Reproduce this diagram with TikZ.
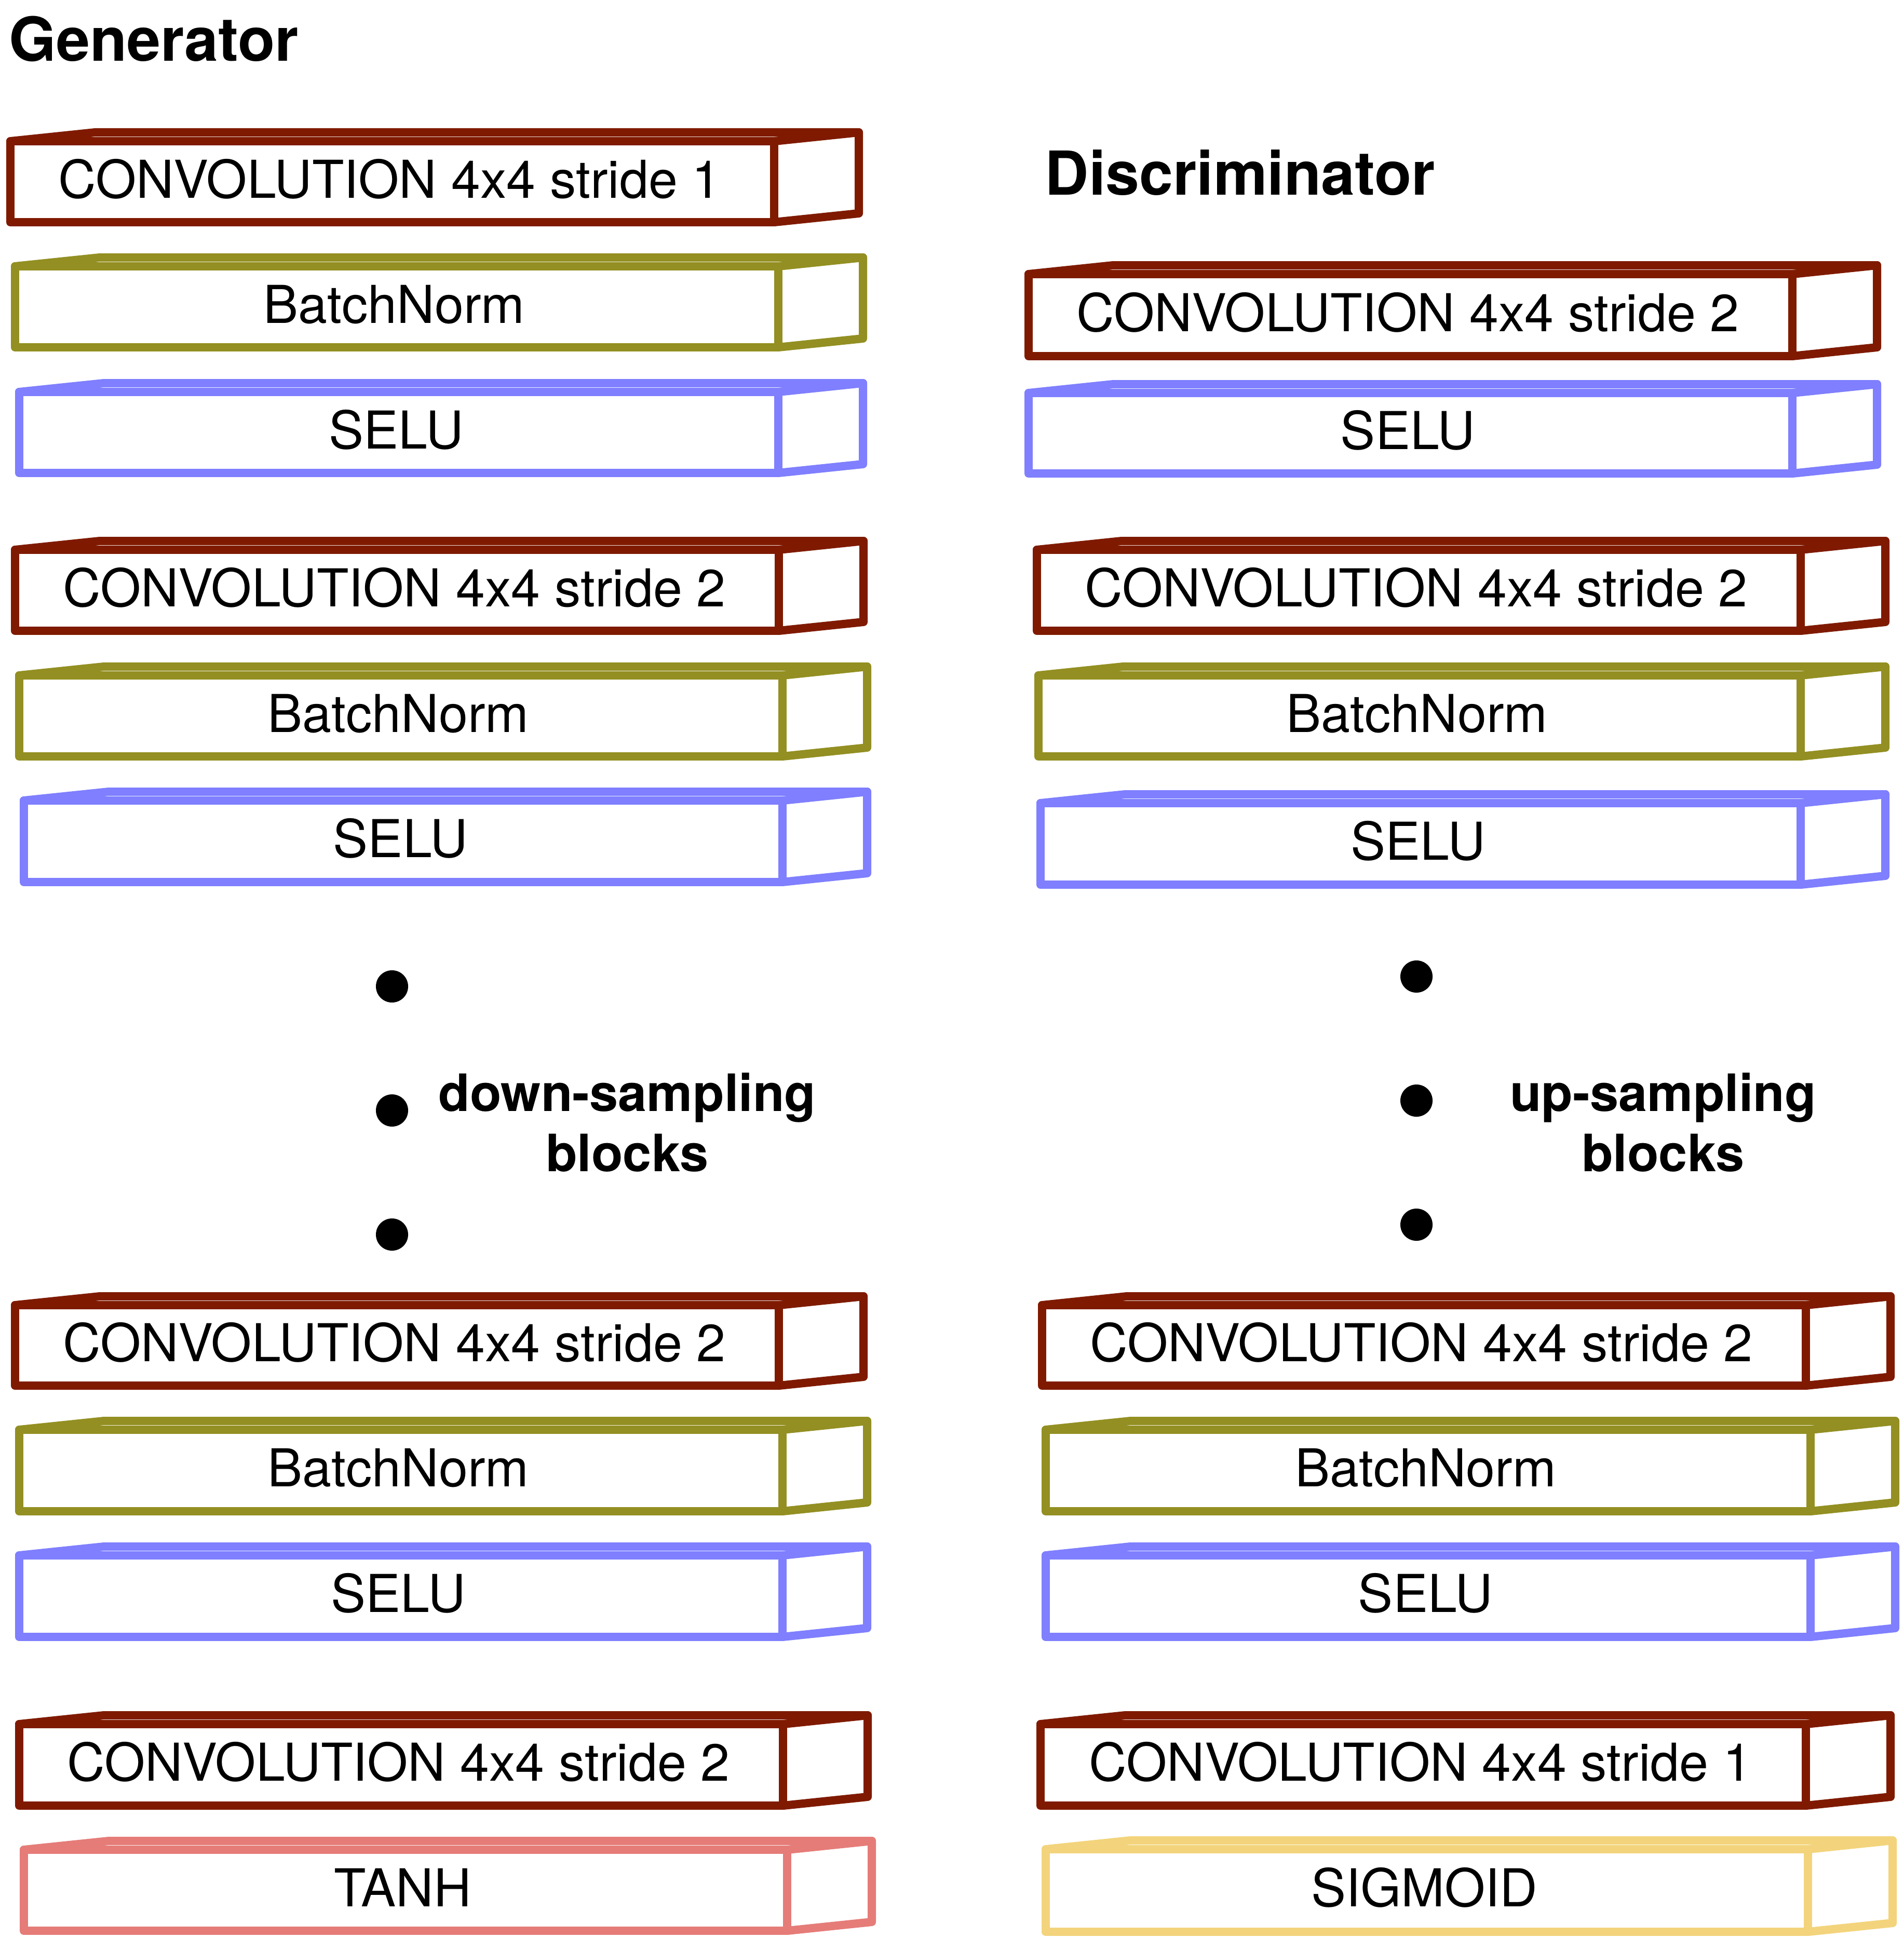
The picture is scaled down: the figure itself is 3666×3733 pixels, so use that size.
\documentclass[tikz,border=0pt]{standalone}
\usepackage{fontspec}
\setmainfont{TeX Gyre Heros}
\usetikzlibrary{calc}
\definecolor{convred}{RGB}{127,26,0}
\definecolor{bnolive}{RGB}{147,143,34}
\definecolor{selublue}{RGB}{127,127,255}
\definecolor{tanhred}{RGB}{229,124,120}
\definecolor{sigyellow}{RGB}{243,212,124}
\newcommand\boxfont{\fontsize{28.6}{34}\selectfont}
\newcommand\titlefont{\fontsize{33.2}{40}\selectfont\bfseries}
\newcommand\labfont{\fontsize{28.2}{34}\selectfont\bfseries}
\tikzset{
  layer/.style={rectangle, inner sep=0pt, outer sep=0pt, line width=0.16cm,
    line join=round, text height=0.75cm, text depth=0.13cm, font=\boxfont},
  backedge/.style={draw=#1, line width=0.16cm, line join=round, line cap=round},
  blackdot/.style={circle, fill=black, inner sep=0pt, minimum size=0.62cm},
  title/.style={anchor=base west, inner sep=0pt, font=\titlefont},
  blocklabel/.style={anchor=base, inner sep=0pt, font=\labfont}
}
% name, colour, x0, y0, x1, y1, text
\newcommand\layerbox[7]{%
  \node[layer, draw=#2, minimum width={(#5-#3)*0.01cm}, minimum height={(#6-#4)*0.01cm}]
    (#1) at ({(#3+#5)/2},{(#4+#6)/2}) {\hspace*{-0.1cm}#7};
  \draw[backedge=#2] (#1.north west) -- ++(163,-17) -- ($(#1.north east)+(163,-17)$)
    -- ($(#1.south east)+(163,-17)$) -- (#1.south east);
  \draw[backedge=#2] (#1.north east) -- ++(163,-17);
}
\begin{document}
\begin{tikzpicture}[x=0.01cm, y=-0.01cm]
\useasboundingbox (0,0) rectangle (3666,3733);

% titles
\node[title] (gentitle) at (17,117) {Generator};
\node[title] (distitle) at (2012,375) {Discriminator};

% Generator column
\layerbox{g1}{convred}{20}{272}{1491}{428}{CONVOLUTION 4x4 stride 1}
\layerbox{g2}{bnolive}{29}{513}{1499}{669}{BatchNorm}
\layerbox{g3}{selublue}{37}{755}{1499}{911}{SELU}
\layerbox{g4}{convred}{29}{1059}{1500}{1215}{CONVOLUTION 4x4 stride 2}
\layerbox{g5}{bnolive}{37}{1301}{1507}{1457}{BatchNorm}
\layerbox{g6}{selublue}{46}{1542}{1507}{1699}{SELU}
\layerbox{g7}{convred}{29}{2514}{1500}{2669}{CONVOLUTION 4x4 stride 2}
\layerbox{g8}{bnolive}{37}{2754}{1507}{2911}{BatchNorm}
\layerbox{g9}{selublue}{37}{2996}{1507}{3153}{SELU}
\layerbox{g10}{convred}{37}{3321}{1508}{3478}{CONVOLUTION 4x4 stride 2}
\layerbox{g11}{tanhred}{46}{3563}{1516}{3719}{TANH}

\node[blackdot] (gdot1) at (755,1900) {};
\node[blackdot] (gdot2) at (755,2139) {};
\node[blackdot] (gdot3) at (755,2378) {};
\node[blocklabel] (glab1) at (1208,2140) {down-sampling};
\node[blocklabel] (glab2) at (1208,2256) {blocks};

% Discriminator column
\layerbox{d1}{convred}{1981}{528}{3452}{686}{CONVOLUTION 4x4 stride 2}
\layerbox{d2}{selublue}{1981}{757}{3452}{912}{SELU}
\layerbox{d3}{convred}{1997}{1059}{3468}{1215}{CONVOLUTION 4x4 stride 2}
\layerbox{d4}{bnolive}{2000}{1301}{3468}{1457}{BatchNorm}
\layerbox{d5}{selublue}{2004}{1547}{3468}{1704}{SELU}
\layerbox{d6}{convred}{2007}{2514}{3478}{2669}{CONVOLUTION 4x4 stride 2}
\layerbox{d7}{bnolive}{2014}{2754}{3487}{2911}{BatchNorm}
\layerbox{d8}{selublue}{2014}{2996}{3487}{3153}{SELU}
\layerbox{d9}{convred}{2004}{3321}{3478}{3478}{CONVOLUTION 4x4 stride 1}
\layerbox{d10}{sigyellow}{2014}{3562}{3482}{3721}{SIGMOID}

\node[blackdot] (ddot1) at (2728,1881) {};
\node[blackdot] (ddot2) at (2728,2120) {};
\node[blackdot] (ddot3) at (2728,2359) {};
\node[blocklabel] (dlab1) at (3203,2140) {up-sampling};
\node[blocklabel] (dlab2) at (3203,2256) {blocks};
\end{tikzpicture}
\end{document}
